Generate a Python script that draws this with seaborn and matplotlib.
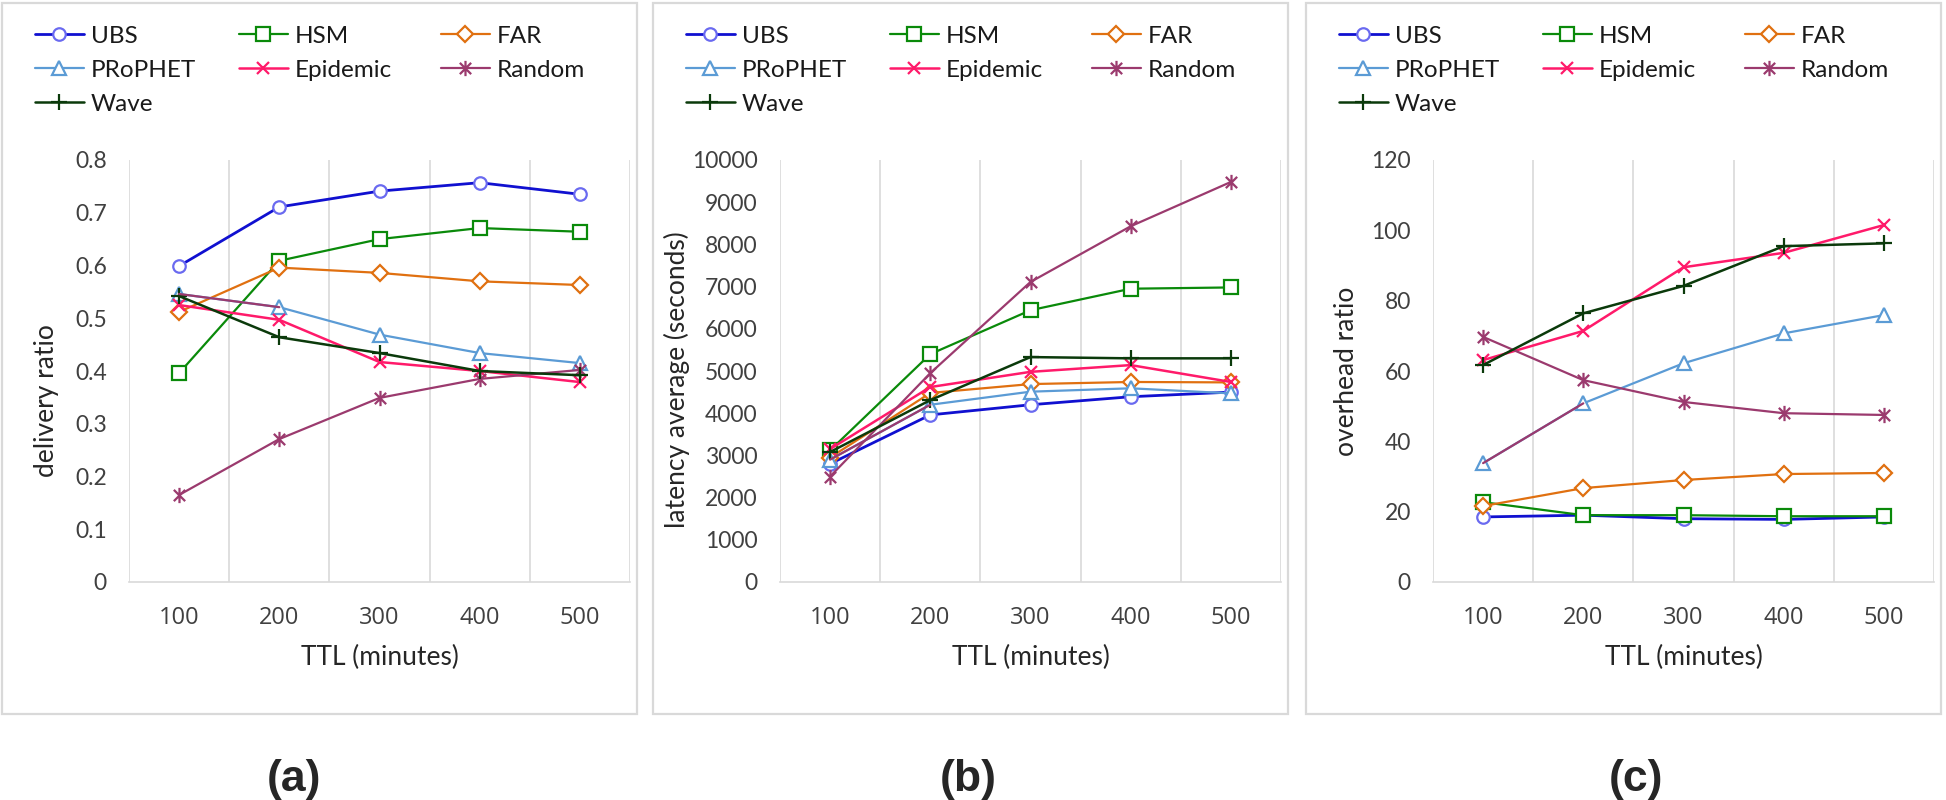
import numpy as np
import pandas as pd
import matplotlib
matplotlib.use("Agg")
import matplotlib.pyplot as plt
from matplotlib.path import Path
from matplotlib.patches import Rectangle
import seaborn as sns

# ---- data ----
ttl = [100, 200, 300, 400, 500]
protocols = ["UBS", "HSM", "FAR", "PRoPHET", "Epidemic", "Random", "Wave"]

delivery_ubs = [0.599, 0.711, 0.741, 0.757, 0.735]
delivery_hsm = [0.396, 0.609, 0.650, 0.671, 0.664]
delivery_far = [0.512, 0.596, 0.586, 0.570, 0.563]
delivery_prophet = [0.546, 0.521, 0.469, 0.434, 0.415]
delivery_epidemic = [0.525, 0.497, 0.417, 0.400, 0.379]
delivery_random = [0.165, 0.271, 0.349, 0.385, 0.402]
delivery_wave = [0.542, 0.464, 0.434, 0.400, 0.392]

latency_ubs = [2800, 3960, 4200, 4390, 4500]
latency_hsm = [3120, 5400, 6440, 6950, 6980]
latency_far = [2950, 4480, 4690, 4740, 4730]
latency_prophet = [2900, 4200, 4510, 4590, 4470]
latency_epidemic = [3150, 4620, 4980, 5140, 4740]
latency_random = [2500, 4950, 7110, 8430, 9480]
latency_wave = [3080, 4310, 5330, 5300, 5300]

overhead_ubs = [18.5, 19.0, 18.0, 17.8, 18.5]
overhead_hsm = [22.7, 19.0, 19.0, 18.7, 18.7]
overhead_far = [21.6, 26.7, 29.0, 30.7, 31.0]
overhead_prophet = [33.8, 50.8, 62.2, 70.7, 75.9]
overhead_epidemic = [63.1, 71.4, 89.5, 93.6, 101.5]
overhead_random = [69.7, 57.4, 51.2, 48.0, 47.5]
overhead_wave = [61.7, 76.4, 84.2, 95.5, 96.3]

panel_tags = ["(a)", "(b)", "(c)"]
y_titles = ["delivery ratio", "latency average (seconds)", "overhead ratio"]
x_title = "TTL (minutes)"

panels = [
    [delivery_ubs, delivery_hsm, delivery_far, delivery_prophet,
     delivery_epidemic, delivery_random, delivery_wave],
    [latency_ubs, latency_hsm, latency_far, latency_prophet,
     latency_epidemic, latency_random, latency_wave],
    [overhead_ubs, overhead_hsm, overhead_far, overhead_prophet,
     overhead_epidemic, overhead_random, overhead_wave],
]
y_limits = [(0, 0.8, 0.1), (0, 10000, 1000), (0, 120, 20)]

# ---- styles ----
asterisk = Path([(-1, -1), (1, 1), (-1, 1), (1, -1), (0, -1.35), (0, 1.35)],
                [Path.MOVETO, Path.LINETO, Path.MOVETO, Path.LINETO,
                 Path.MOVETO, Path.LINETO])
styles = {
    "UBS":      dict(color="#1010D0", mec="#6A6AF0", marker="o", ms=9, lw=2.0, mfc="white"),
    "HSM":      dict(color="#0A8A0A", mec="#0A8A0A", marker="s", ms=10, lw=1.6, mfc="white"),
    "FAR":      dict(color="#E07010", mec="#E07010", marker="D", ms=8, lw=1.6, mfc="white"),
    "PRoPHET":  dict(color="#5B9BD5", mec="#5B9BD5", marker="^", ms=10, lw=1.6, mfc="white"),
    "Epidemic": dict(color="#FF1A6A", mec="#FF1A6A", marker="x", ms=9, lw=1.8, mfc="none"),
    "Random":   dict(color="#9B3A6E", mec="#9B3A6E", marker=asterisk, ms=11, lw=1.6, mfc="none"),
    "Wave":     dict(color="#0B3A0B", mec="#0B3A0B", marker="+", ms=12, lw=1.8, mfc="none"),
}

sns.set_theme(style="white")
plt.rcParams["font.family"] = ["Lato", "DejaVu Sans"]

W, H = 1946, 800
fig = plt.figure(figsize=(W / 100, H / 100), dpi=100)

box_left = [2, 653, 1306]
plot_left = [129, 780, 1433]
plot_w = 501
plot_top, plot_bot = 160, 582
tag_x = [294, 968, 1636]
ylab_off = [-0.165, -0.205, -0.172]
ylab_y = [0.43, 0.48, 0.50]

# legend slots (pixel offsets from the panel frame): column x, row y
leg_col = [33, 237, 439]
leg_row = [36, 70, 104]
leg_slot = {"UBS": (0, 0), "HSM": (1, 0), "FAR": (2, 0),
            "PRoPHET": (0, 1), "Epidemic": (1, 1), "Random": (2, 1),
            "Wave": (0, 2)}

for i in range(3):
    # panel frame
    fig.patches.append(Rectangle((box_left[i] / W, 1 - 714 / H), 635 / W, 711 / H,
                                 transform=fig.transFigure, fill=False,
                                 edgecolor="#D9D9D9", lw=1.6))
    ax = fig.add_axes([plot_left[i] / W, 1 - plot_bot / H, plot_w / W,
                       (plot_bot - plot_top) / H])
    rows = []
    for name, vals in zip(protocols, panels[i]):
        for t, v in zip(ttl, vals):
            rows.append({"TTL": t, "value": v, "protocol": name})
    df = pd.DataFrame(rows)

    handles = {}
    for name in protocols:
        st = styles[name]
        sub = df[df["protocol"] == name]
        sns.lineplot(data=sub, x="TTL", y="value", ax=ax, color=st["color"],
                     marker=st["marker"], ms=st["ms"], mec=st["mec"], mfc=st["mfc"],
                     mew=1.6, lw=st["lw"], errorbar=None, zorder=3, legend=False)
        handles[name] = ax.lines[-1]
        if name == "PRoPHET":
            # the first PRoPHET segment is drawn in purple in the reference
            sns.lineplot(data=sub.iloc[:2], x="TTL", y="value", ax=ax,
                         color=styles["Random"]["color"], lw=1.6, errorbar=None,
                         zorder=3.1, legend=False)

    lo, hi, step = y_limits[i]
    ax.set_ylim(lo, hi)
    ax.set_yticks(np.arange(lo, hi + step / 2, step))
    ax.yaxis.set_major_formatter(matplotlib.ticker.FuncFormatter(lambda v, p: f"{v:g}"))
    ax.set_xlim(50, 550)
    ax.set_xticks(ttl)
    ax.set_xticks(np.arange(50, 551, 100), minor=True)
    ax.grid(which="minor", axis="x", color="#D9D9D9", lw=1.2)
    ax.grid(which="major", axis="both", visible=False)
    ax.tick_params(which="both", length=0)
    ax.tick_params(axis="x", pad=17, labelsize=17, labelcolor="#404040")
    ax.tick_params(axis="y", pad=16, labelsize=16.5, labelcolor="#404040")
    for lab in ax.get_xticklabels():
        lab.set_fontfamily(["Open Sans", "DejaVu Sans"])
    for s in ["top", "left", "right"]:
        ax.spines[s].set_visible(False)
    ax.spines["bottom"].set_color("#D9D9D9")
    ax.spines["bottom"].set_linewidth(1.2)

    ax.set_xlabel(x_title, fontsize=19, color="#262626")
    ax.xaxis.label.set_va("center")
    ax.xaxis.set_label_coords(0.5, -0.18)
    ax.set_ylabel(y_titles[i], fontsize=19, color="#262626")
    ax.yaxis.label.set_va("center")
    ax.yaxis.set_label_coords(ylab_off[i], ylab_y[i])

    # one legend entry per slot so the grid matches the reference exactly
    for name in protocols:
        c, r = leg_slot[name]
        leg = ax.legend([handles[name]], [name], loc="center left", frameon=False,
                        fontsize=17.5, labelcolor="#1a1a1a",
                        bbox_to_anchor=((box_left[i] + leg_col[c]) / W, 1 - leg_row[r] / H),
                        bbox_transform=fig.transFigure, borderpad=0, borderaxespad=0,
                        handlelength=2.0, handletextpad=0.3)
        ax.add_artist(leg)
    ax.legend_ = None

    fig.text(tag_x[i] / W, 1 - 779 / H, panel_tags[i], ha="center", va="center",
             fontsize=32, fontweight="bold", family=["Liberation Sans", "DejaVu Sans"])

fig.savefig("out.png", dpi=100)
